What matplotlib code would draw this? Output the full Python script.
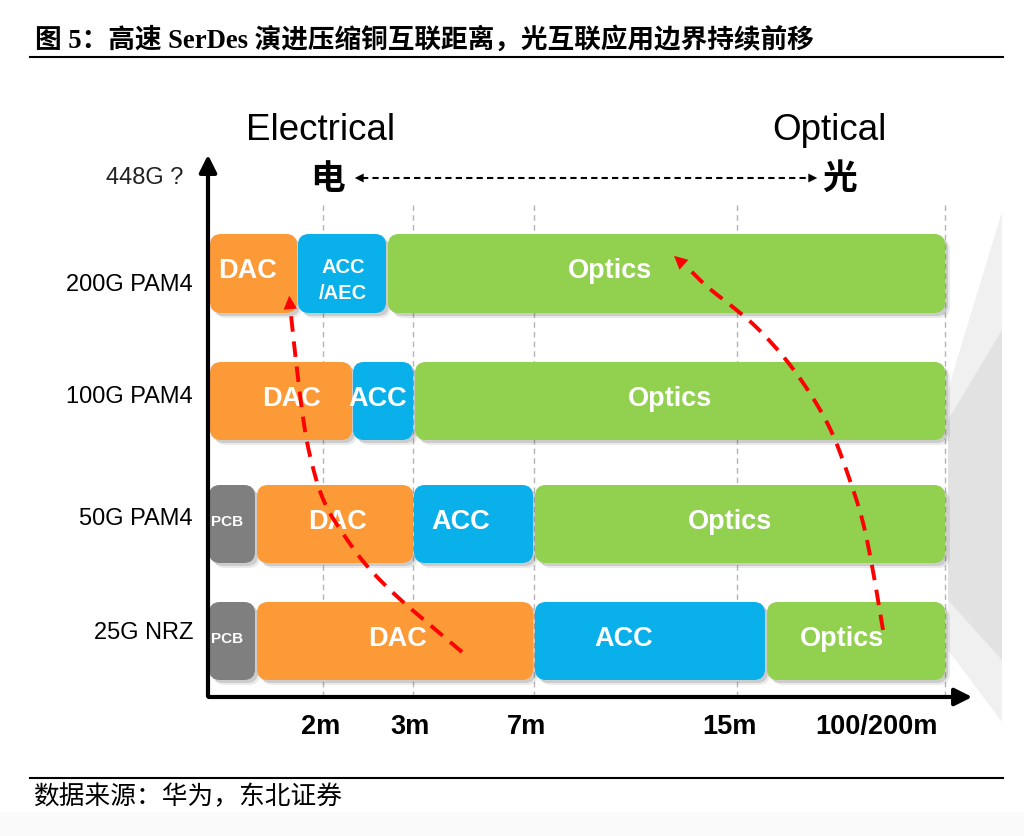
import numpy as np
import matplotlib.pyplot as plt
from matplotlib.patches import FancyBboxPatch, Polygon

plt.rcParams['font.family'] = ['Liberation Sans', 'Noto Sans CJK SC', 'DejaVu Sans']

# --- data (schematic, pixel-like units) ---
row_labels = ["200G PAM4", "100G PAM4", "50G PAM4", "25G NRZ"]
row_top = [234, 362, 485, 602]
row_bottom = [313, 440, 563, 680]
row_label_y = [285, 397, 519, 633]

# (name, start, end, label_x)
segments = [
    [("DAC", 210, 297, 248), ("ACC\n/AEC", 298, 386, 343), ("Optics", 388, 945, 610)],
    [("DAC", 210, 352, 291), ("ACC", 353, 413, 378), ("Optics", 415, 945, 670)],
    [("PCB", 209, 255, 227), ("DAC", 257, 413, 337), ("ACC", 414, 533, 461), ("Optics", 535, 945, 730)],
    [("PCB", 209, 255, 227), ("DAC", 257, 533, 398), ("ACC", 535, 765, 624), ("Optics", 767, 945, 842)],
]
tick_pos = [323, 413, 534, 737, 945]
tick_labels = ["2m", "3m", "7m", "15m", "100/200m"]
tick_label_x = [321, 410, 527, 729, 876]

colors = {"DAC": "#FD9A38", "ACC": "#0AB0EA", "ACC\n/AEC": "#0AB0EA",
          "Optics": "#92D050", "PCB": "#7F7F7F"}


def smooth(xs, ys, n=3):
    # chaikin corner cutting, just to soften the hand-drawn arrows
    p = np.column_stack([xs, ys]).astype(float)
    for _ in range(n):
        q = 0.75 * p[:-1] + 0.25 * p[1:]
        r = 0.25 * p[:-1] + 0.75 * p[1:]
        mid = np.empty((2 * len(q), 2))
        mid[0::2], mid[1::2] = q, r
        p = np.vstack([p[:1], mid, p[-1:]])
    return p[:, 0], p[:, 1]


fig = plt.figure(figsize=(10.24, 8.36), dpi=100)
ax = fig.add_axes([0, 0, 1, 1])
ax.set_xlim(0, 1024)
ax.set_ylim(836, 0)
ax.axis("off")

# page background at bottom
ax.add_patch(plt.Rectangle((0, 812), 1024, 24, color="#fafafa", lw=0, zorder=0))

# title and rules
ax.text(35, 40, "图 5：高速 SerDes 演进压缩铜互联距离，光互联应用边界持续前移",
        fontsize=19.2, fontweight="bold", va="center", ha="left",
        family=["Liberation Serif", "Noto Sans CJK SC"])
ax.plot([30, 1003], [57, 57], color="black", lw=1.5)
ax.plot([30, 1003], [778, 778], color="black", lw=1.5)
ax.text(33, 797, "数据来源：华为，东北证券", fontsize=18.5, va="center", ha="left",
        family=["Liberation Serif", "Noto Sans CJK SC"])

# grey fan on the right
ax.add_patch(Polygon([(1002, 212), (975, 300), (948, 390), (948, 650), (1002, 722)],
                     closed=True, fc="#f0f0f0", ec="none", zorder=1))
ax.add_patch(Polygon([(1002, 330), (948, 420), (948, 600), (1002, 660)],
                     closed=True, fc="#e2e2e2", ec="none", zorder=1))

# dashed grid lines
for x in tick_pos:
    ax.plot([x, x], [205, 697], color="#b5b5b5", lw=1, ls=(0, (4, 3)), zorder=1)

# bars
for r, segs in enumerate(segments):
    y0, y1 = row_top[r], row_bottom[r]
    for name, x0, x1, lx in segs:
        for k, a in [(5, 0.12), (3, 0.2)]:
            ax.add_patch(FancyBboxPatch((x0 + k, y0 + k), x1 - x0, y1 - y0,
                                        boxstyle="round,pad=0,rounding_size=11",
                                        fc="#555555", ec="none", alpha=a, zorder=2))
        ax.add_patch(FancyBboxPatch((x0, y0), x1 - x0, y1 - y0,
                                    boxstyle="round,pad=0,rounding_size=11",
                                    fc=colors[name], ec="none", zorder=3))
        cy = (y0 + y1) / 2 - 2
        if name == "PCB":
            fs = 11
        elif name == "ACC\n/AEC":
            fs = 14.5
            cy = (y0 + y1) / 2 + 7
        else:
            fs = 19.5
        ax.text(lx, cy, name, color="white", fontsize=fs, fontweight="bold",
                ha="center", va="center", zorder=4, linespacing=1.45)
    ax.text(193, row_label_y[r], row_labels[r], fontsize=17, ha="right", va="center")

ax.text(183, 178, "448G ?", fontsize=17, ha="right", va="center", color="#222222")

# axes with arrows
ax.annotate("", xy=(208, 152), xytext=(208, 699),
            arrowprops=dict(arrowstyle="-|>", color="black", lw=3, mutation_scale=26))
ax.annotate("", xy=(975, 697), xytext=(206, 697),
            arrowprops=dict(arrowstyle="-|>", color="black", lw=3, mutation_scale=26))

for lx, lab in zip(tick_label_x, tick_labels):
    ax.text(lx, 727, lab, fontsize=19.5, fontweight="bold", ha="center", va="center")

# electrical / optical header
ax.text(321, 130, "Electrical", fontsize=26.5, ha="center", va="center")
ax.text(829, 130, "Optical", fontsize=26.5, ha="center", va="center")
ax.text(328, 178, "电", fontsize=25, fontweight="bold", ha="center", va="center",
        family=["Noto Sans CJK SC"])
ax.text(840, 178, "光", fontsize=25, fontweight="bold", ha="center", va="center",
        family=["Noto Sans CJK SC"])
ax.plot([362, 808], [178, 178], color="black", lw=1.5, ls=(0, (3, 2)))
for tip, tail in [((352, 178), (364, 178)), ((820, 178), (808, 178))]:
    ax.annotate("", xy=tip, xytext=tail,
                arrowprops=dict(arrowstyle="-|>", color="black", lw=0, mutation_scale=16))

# red dashed trend arrows
left_x = [462, 430, 397, 367, 347, 323, 310, 303, 295, 291]
left_y = [652, 625, 597, 567, 540, 503, 458, 420, 353, 315]
right_x = [883, 873, 863, 850, 833, 813, 787, 757, 733, 707, 690]
right_y = [630, 570, 520, 480, 433, 397, 360, 327, 307, 287, 270]
for xs, ys in [(left_x, left_y), (right_x, right_y)]:
    sx, sy = smooth(xs, ys)
    ax.plot(sx, sy, color="#FF0000", lw=2.8, ls=(0, (4, 2.5)), zorder=5,
            dash_capstyle="butt")
ax.annotate("", xy=(289, 293), xytext=(291, 318),
            arrowprops=dict(arrowstyle="-|>", color="#FF0000", lw=0, mutation_scale=24), zorder=6)
ax.annotate("", xy=(672, 254), xytext=(692, 272),
            arrowprops=dict(arrowstyle="-|>", color="#FF0000", lw=0, mutation_scale=24), zorder=6)

fig.savefig("out.png", dpi=100)
